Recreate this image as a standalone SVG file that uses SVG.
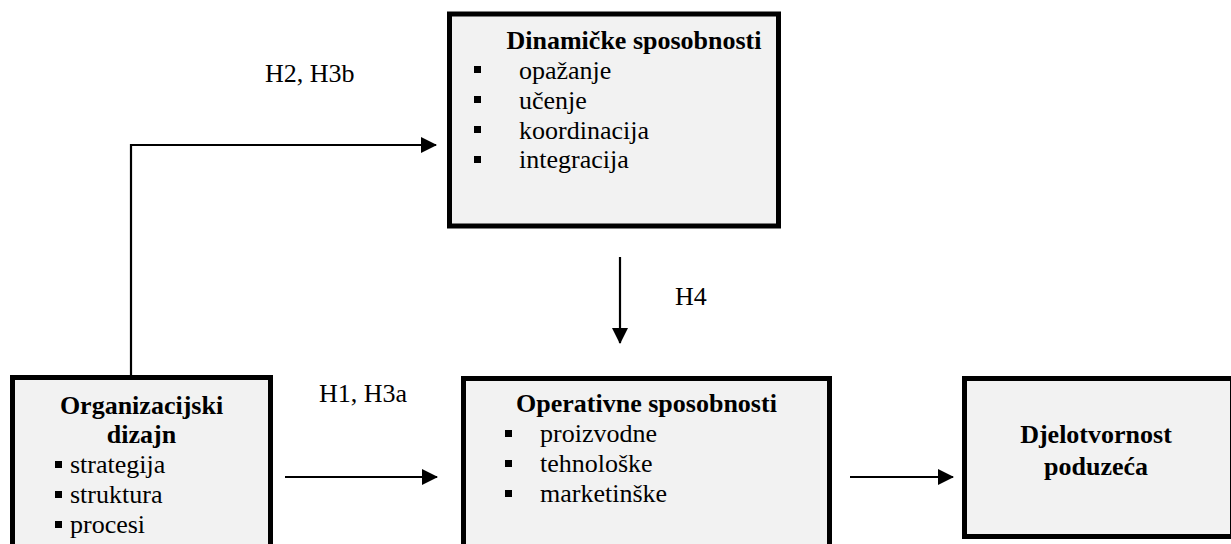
<svg xmlns="http://www.w3.org/2000/svg" width="1231" height="544" viewBox="0 0 1231 544">
  <style>
    .box { fill: #f2f2f2; stroke: #000; stroke-width: 5; }
    .title { font-family: "Liberation Serif", "Times New Roman", serif; font-size: 26px; font-weight: bold; fill: #000; }
    .item { font-family: "Liberation Serif", "Times New Roman", serif; font-size: 26px; fill: #000; }
    .label { font-family: "Liberation Serif", "Times New Roman", serif; font-size: 26px; fill: #000; }
    .bullet { fill: #000; }
    .conn { fill: none; stroke: #000; stroke-width: 2.2; }
  </style>
  <defs>
    <marker id="arrow" markerUnits="userSpaceOnUse" markerWidth="16" markerHeight="16" viewBox="0 0 16 16" refX="15" refY="8" orient="auto">
      <path d="M0,0 L16,8 L0,16 Z" fill="#000"/>
    </marker>
  </defs>
  <rect width="1231" height="544" fill="#fff"/>

  <!-- connectors -->
  <g id="connectors">
    <path class="conn" d="M131,376 V145 H436" marker-end="url(#arrow)"/>
    <path class="conn" d="M620,257 V343" marker-end="url(#arrow)"/>
    <path class="conn" d="M285,477 H437" marker-end="url(#arrow)"/>
    <path class="conn" d="M850,477 H953" marker-end="url(#arrow)"/>
    <text class="label" x="265" y="82">H2, H3b</text>
    <text class="label" x="675" y="305">H4</text>
    <text class="label" x="319" y="402">H1, H3a</text>
  </g>

  <!-- Dinamičke sposobnosti -->
  <g id="dinamicke">
    <rect class="box" x="449.5" y="14" width="329" height="212"/>
    <text class="title" x="634" y="49" text-anchor="middle">Dinamičke sposobnosti</text>
    <rect class="bullet" x="474" y="66" width="7" height="7"/>
    <rect class="bullet" x="474" y="96" width="7" height="7"/>
    <rect class="bullet" x="474" y="126" width="7" height="7"/>
    <rect class="bullet" x="474" y="156" width="7" height="7"/>
    <text class="item" x="519" y="79">opažanje</text>
    <text class="item" x="519" y="109">učenje</text>
    <text class="item" x="519" y="139">koordinacija</text>
    <text class="item" x="519" y="168">integracija</text>
  </g>

  <!-- Organizacijski dizajn -->
  <g id="organizacijski">
    <rect class="box" x="12.5" y="377.5" width="258" height="200"/>
    <text class="title" x="141.5" y="414" text-anchor="middle">Organizacijski</text>
    <text class="title" x="141.5" y="443" text-anchor="middle">dizajn</text>
    <rect class="bullet" x="55" y="461" width="7" height="7"/>
    <rect class="bullet" x="55" y="491" width="7" height="7"/>
    <rect class="bullet" x="55" y="521" width="7" height="7"/>
    <text class="item" x="70" y="473">strategija</text>
    <text class="item" x="70" y="503">struktura</text>
    <text class="item" x="70" y="533">procesi</text>
  </g>

  <!-- Operativne sposobnosti -->
  <g id="operativne">
    <rect class="box" x="463.5" y="378.5" width="366" height="200"/>
    <text class="title" x="646.5" y="412" text-anchor="middle">Operativne sposobnosti</text>
    <rect class="bullet" x="505" y="430" width="7" height="7"/>
    <rect class="bullet" x="505" y="460" width="7" height="7"/>
    <rect class="bullet" x="505" y="490" width="7" height="7"/>
    <text class="item" x="540" y="442">proizvodne</text>
    <text class="item" x="540" y="472">tehnološke</text>
    <text class="item" x="540" y="502">marketinške</text>
  </g>

  <!-- Djelotvornost poduzeća -->
  <g id="djelotvornost">
    <rect class="box" x="964.5" y="378.5" width="268" height="158"/>
    <text class="title" x="1096" y="443" text-anchor="middle">Djelotvornost</text>
    <text class="title" x="1096" y="475" text-anchor="middle">poduzeća</text>
  </g>
</svg>
